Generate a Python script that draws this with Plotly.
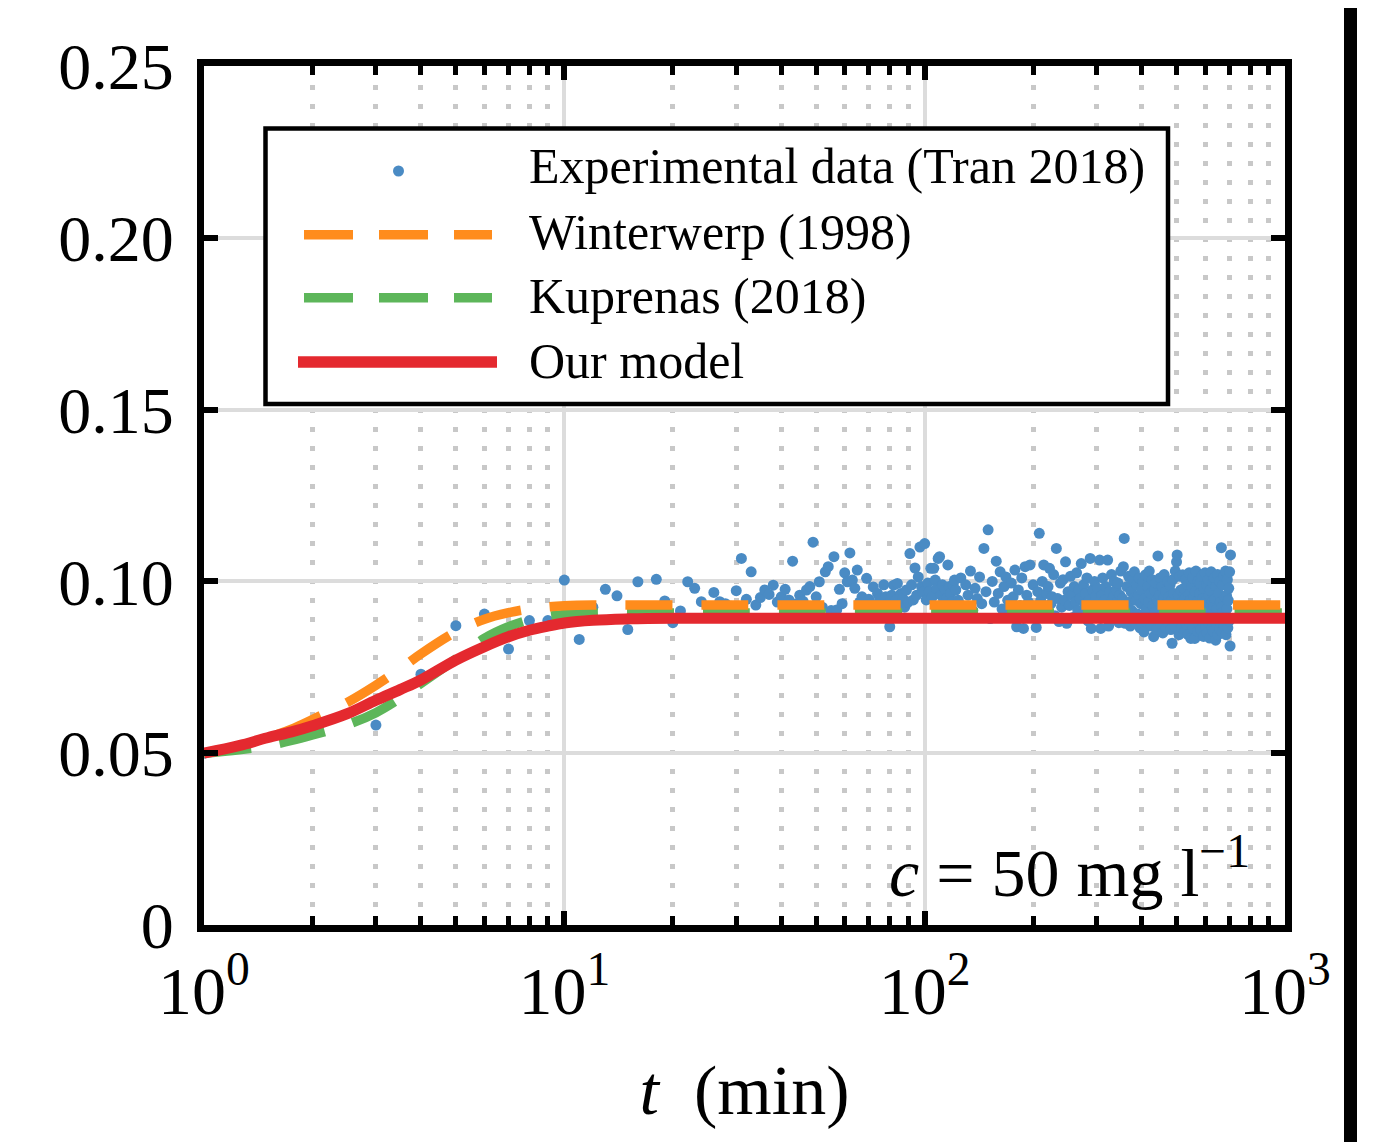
import plotly.graph_objects as go

# ---------------- data ----------------
# experimental data, sparse part (t in minutes)
t_exp_a = list(range(1, 122))
v_exp_a = [
    0.0500, 0.0572, 0.0582, 0.0730, 0.0871, 0.0905, 0.0803, 0.0886, 0.0886, 0.1004,
    0.0831, 0.0925, 0.0977, 0.0958, 0.0860, 0.0999, 0.0920, 0.1006, 0.0943, 0.0880,
    0.0914, 0.0999, 0.0980, 0.0941, 0.0925, 0.0968, 0.0941, 0.0935, 0.0928, 0.0973,
    0.1067, 0.0948, 0.1028, 0.0931, 0.0953, 0.0975, 0.0962, 0.0989, 0.0940, 0.0955,
    0.0977, 0.0946, 0.1059, 0.0935, 0.0960, 0.0942, 0.0975, 0.0985, 0.1114, 0.0955,
    0.0999, 0.0925, 0.1028, 0.1043, 0.0915, 0.1072, 0.0917, 0.0977, 0.0935, 0.1025,
    0.0999, 0.1083, 0.1004, 0.0980, 0.1033, 0.0940, 0.0955, 0.0925, 0.1009, 0.0948,
    0.0935, 0.0984, 0.0920, 0.0965, 0.0950, 0.0930, 0.0990, 0.0955, 0.0935, 0.0868,
    0.0960, 0.0989, 0.0945, 0.0994, 0.0930, 0.0965, 0.0950, 0.0925, 0.0975, 0.0940,
    0.1081, 0.0990, 0.0946, 0.1039, 0.0960, 0.1013, 0.1100, 0.0985, 0.0970, 0.1110,
    0.0946, 0.0995, 0.0970, 0.1038, 0.0955, 0.1038, 0.1004, 0.0980, 0.1067, 0.1072,
    0.0960, 0.0990, 0.0945, 0.0975, 0.0950, 0.1048, 0.0985, 0.0965, 0.0940, 0.0990,
    0.1004,
]
# experimental data, dense part (every 2 min from 122 to 706)
t_exp_b = list(range(122, 707, 2))
v_exp_b = [
    0.0975, 0.0945, 0.1010, 0.0925, 0.0990, 0.0960, 0.1030, 0.0915, 0.0980, 0.0950,
    0.1013, 0.0935, 0.1096, 0.0970, 0.1150, 0.0892, 0.1000, 0.0940, 0.1059, 0.0965,
    0.1028, 0.0920, 0.0985, 0.1013, 0.0945, 0.0905, 0.0995, 0.0955, 0.1033, 0.0868,
    0.0975, 0.0930, 0.1010, 0.0863, 0.1043, 0.0960, 0.0940, 0.1048, 0.0915, 0.0990,
    0.0925, 0.0866, 0.0970, 0.1140, 0.0945, 0.1000, 0.1048, 0.0910, 0.0965, 0.0985,
    0.1038, 0.0935, 0.0955, 0.1020, 0.0900, 0.1096, 0.0950, 0.0883, 0.0995, 0.0925,
    0.1005, 0.0945, 0.1057, 0.0878, 0.0970, 0.0930, 0.1015, 0.0960, 0.0895, 0.0985,
    0.0940, 0.1025, 0.0915, 0.0975, 0.0950, 0.1052, 0.0905, 0.0990, 0.0935, 0.0965,
    0.1010, 0.0885, 0.0945, 0.1067, 0.0863, 0.0975, 0.0925, 0.1000, 0.0955, 0.0900,
    0.0980, 0.0930, 0.1062, 0.0863, 0.0960, 0.1010, 0.0895, 0.0945, 0.0985, 0.0920,
    0.1062, 0.0870, 0.0970, 0.0935, 0.1020, 0.0890, 0.0955, 0.1000, 0.0910, 0.0975,
    0.0940, 0.0995, 0.0880, 0.0960, 0.1030, 0.0905, 0.0950, 0.1043, 0.1125, 0.0878,
    0.0925, 0.0985, 0.0895, 0.1015, 0.0940, 0.0870, 0.0970, 0.0915, 0.1005, 0.0950,
    0.1028, 0.0880, 0.0945, 0.0990, 0.0905, 0.0960, 0.1010, 0.0865, 0.0935, 0.0975,
    0.0900, 0.1000, 0.0853, 0.0950, 0.1019, 0.0920, 0.0880, 0.0985, 0.0940, 0.1030,
    0.0895, 0.0965, 0.0870, 0.1005, 0.0930, 0.0839, 0.0975, 0.0910, 0.0995, 0.0860,
    0.0945, 0.1074, 0.0890, 0.0960, 0.1010, 0.0875, 0.0925, 0.0985, 0.0850, 0.0950,
    0.1020, 0.0900, 0.0970, 0.0865, 0.0935, 0.1000, 0.0880, 0.0955, 0.0915, 0.0990,
    0.0860, 0.0945, 0.0820, 0.1005, 0.0905, 0.0965, 0.0870, 0.1030, 0.0930, 0.1057,
    0.1077, 0.0885, 0.0960, 0.0845, 0.1015, 0.0920, 0.0975, 0.0865, 0.0940, 0.1019,
    0.0895, 0.0980, 0.0853, 0.0950, 0.1005, 0.0875, 0.0930, 0.0990, 0.0845, 0.0960,
    0.1025, 0.0880, 0.0945, 0.0834, 0.0985, 0.0910, 0.1010, 0.0865, 0.0955, 0.0900,
    0.0834, 0.0970, 0.1030, 0.0890, 0.0940, 0.0855, 0.1000, 0.0920, 0.0875, 0.0965,
    0.0995, 0.0860, 0.0935, 0.1015, 0.0885, 0.0950, 0.0840, 0.0980, 0.0905, 0.1025,
    0.0870, 0.0945, 0.0990, 0.0850, 0.0925, 0.1005, 0.0880, 0.0960, 0.0835, 0.0975,
    0.0915, 0.1028, 0.0865, 0.0940, 0.0995, 0.0855, 0.0930, 0.1010, 0.0890, 0.0950,
    0.0829, 0.0985, 0.0875, 0.0920, 0.1020, 0.0845, 0.0965, 0.0900, 0.1000, 0.0860,
    0.0940, 0.0880, 0.1098, 0.0925, 0.0853, 0.0990, 0.0910, 0.1015, 0.0870, 0.0955,
    0.0895, 0.1030, 0.0845, 0.0960, 0.0920, 0.1005, 0.0865, 0.0945, 0.0980, 0.0885,
    0.1028, 0.0812, 0.1077,
]

# model curves
t_model = [1, 1.25, 1.5, 1.75, 2, 2.5, 3, 3.5, 4, 5, 6, 7, 8, 9, 10, 12, 15, 20,
           30, 50, 100, 200, 500, 1000]
v_winterwerp = [0.0500, 0.0522, 0.0545, 0.0570, 0.0598, 0.0648, 0.0698, 0.0745,
                0.0789, 0.0853, 0.0890, 0.0909, 0.0920, 0.0926, 0.0929, 0.0931,
                0.0931, 0.0931, 0.0931, 0.0931, 0.0931, 0.0931, 0.0931, 0.0931]
v_kuprenas = [0.0500, 0.0510, 0.0522, 0.0537, 0.0553, 0.0583, 0.0618, 0.0660,
              0.0703, 0.0774, 0.0834, 0.0868, 0.0888, 0.0898, 0.0904, 0.0907,
              0.0908, 0.0908, 0.0908, 0.0908, 0.0908, 0.0908, 0.0908, 0.0908]
v_ours = [0.0500, 0.0522, 0.0545, 0.0562, 0.0580, 0.0615, 0.0654, 0.0685,
          0.0713, 0.0771, 0.0810, 0.0839, 0.0858, 0.0870, 0.0879, 0.0887,
          0.0891, 0.0893, 0.0893, 0.0893, 0.0893, 0.0893, 0.0893, 0.0893]

x_tickvals = [1, 10, 100, 1000]
x_ticktext = ["10<sup>0</sup>", "10<sup>1</sup>", "10<sup>2</sup>", "10<sup>3</sup>"]
x_minorvals = [2, 3, 4, 5, 6, 7, 8, 9, 20, 30, 40, 50, 60, 70, 80, 90,
               200, 300, 400, 500, 600, 700, 800, 900]
y_tickvals = [0, 0.05, 0.10, 0.15, 0.20, 0.25]
y_ticktext = ["0", "0.05", "0.10", "0.15", "0.20", "0.25"]

legend_labels = ["Experimental data (Tran 2018)", "Winterwerp (1998)",
                 "Kuprenas (2018)", "Our model"]

# ---------------- style ----------------
FONT = "Liberation Serif"
C_BLUE = "#4A8BC4"
C_ORANGE = "#FF8C1C"
C_GREEN = "#5DB65A"
C_RED = "#E4292F"
BODY = 8                      # page body margin of the html
W, H = 1388, 1134
L, T = 196, 58
PW, PH = 1081, 859
R, B = W - L - PW, H - T - PH


def px(sx):
    """screen x pixel -> paper x"""
    return (sx - BODY - L) / PW


def py(sy):
    """screen y pixel -> paper y"""
    return (T + PH - (sy - BODY)) / PH


fig = go.Figure()
fig.add_trace(go.Scatter(x=t_exp_a + t_exp_b, y=v_exp_a + v_exp_b, mode="markers",
                         marker=dict(size=11, color=C_BLUE, line=dict(width=0)),
                         name=legend_labels[0], showlegend=False))
fig.add_trace(go.Scatter(x=t_model, y=v_kuprenas, mode="lines", line_shape="spline",
                         line=dict(color=C_GREEN, width=9.5, dash="47px,29px"),
                         name=legend_labels[2], showlegend=False))
fig.add_trace(go.Scatter(x=t_model, y=v_winterwerp, mode="lines", line_shape="spline",
                         line=dict(color=C_ORANGE, width=9.5, dash="47px,29px"),
                         name=legend_labels[1], showlegend=False))
fig.add_trace(go.Scatter(x=t_model, y=v_ours, mode="lines", line_shape="spline",
                         line=dict(color=C_RED, width=11),
                         name=legend_labels[3], showlegend=False))

axis_common = dict(showline=True, linecolor="black", linewidth=7, mirror="allticks",
                   ticks="inside", tickcolor="black", tickwidth=5.5, ticklen=14,
                   showgrid=True, gridcolor="#DCDCDC", gridwidth=4, zeroline=False)

fig.update_xaxes(type="log", range=[0, 3], tickvals=x_tickvals, ticktext=x_ticktext,
                 ticklabelstandoff=0,
                 tickfont=dict(family=FONT, size=68, color="black"),
                 minor=dict(tickvals=x_minorvals, ticks="inside", ticklen=9,
                            tickwidth=5, tickcolor="black",
                            showgrid=True, gridcolor="#C8C8C8", gridwidth=5,
                            griddash="5px,14px"),
                 title=dict(text="<i>t</i>  (min)", standoff=40,
                            font=dict(family=FONT, size=70, color="black")),
                 **axis_common)
fig.update_yaxes(range=[0, 0.25], tickvals=y_tickvals, ticktext=y_ticktext,
                 ticklabelstandoff=10,
                 tickfont=dict(family=FONT, size=66, color="black"),
                 **axis_common)

shapes = []
# legend box
shapes.append(dict(type="rect", xref="paper", yref="paper", layer="above",
                   x0=px(265.5), x1=px(1168), y0=py(404), y1=py(128.5),
                   fillcolor="white", line=dict(color="black", width=4.5)))
# legend samples
shapes.append(dict(type="circle", xref="paper", yref="paper", layer="above",
                   x0=px(393), x1=px(404), y0=py(176.5), y1=py(165.5),
                   fillcolor=C_BLUE, line=dict(width=0)))
shapes.append(dict(type="line", xref="paper", yref="paper", layer="above",
                   x0=px(304), x1=px(492), y0=py(234.7), y1=py(234.7),
                   line=dict(color=C_ORANGE, width=9.5, dash="49px,26px")))
shapes.append(dict(type="line", xref="paper", yref="paper", layer="above",
                   x0=px(304), x1=px(492), y0=py(297.7), y1=py(297.7),
                   line=dict(color=C_GREEN, width=9.5, dash="49px,26px")))
shapes.append(dict(type="line", xref="paper", yref="paper", layer="above",
                   x0=px(298), x1=px(497), y0=py(362), y1=py(362),
                   line=dict(color=C_RED, width=11.5)))
# black bar at right edge of picture
shapes.append(dict(type="rect", xref="paper", yref="paper", layer="above",
                   x0=px(1344), x1=px(1357), y0=py(1160), y1=py(-10),
                   fillcolor="black", line=dict(width=0)))

annotations = []
for lab, ycen in zip(legend_labels, [166.5, 231.8, 296.2, 360.5]):
    annotations.append(dict(text=lab, xref="paper", yref="paper", x=px(527), y=py(ycen),
                            xanchor="left", yanchor="middle", showarrow=False,
                            font=dict(family=FONT, size=50, color="black")))
annotations.append(dict(text="<i>c</i>\u2005=\u200550 mg l<sup>\u22121</sup>",
                        xref="paper", yref="paper", x=px(1252), y=py(868),
                        xanchor="right", yanchor="middle", showarrow=False,
                        font=dict(family=FONT, size=68, color="black")))

fig.update_layout(width=W, height=H, margin=dict(l=L, r=R, t=T, b=B, autoexpand=False),
                  paper_bgcolor="white", plot_bgcolor="white", showlegend=False,
                  shapes=shapes, annotations=annotations)

fig.write_html("out.html")
